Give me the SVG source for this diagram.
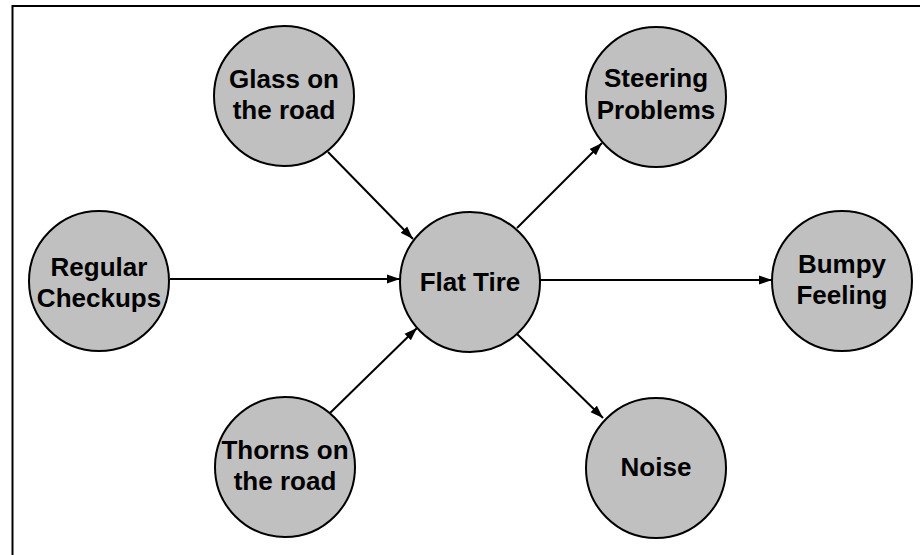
<svg xmlns="http://www.w3.org/2000/svg" width="920" height="555" viewBox="0 0 920 555">
<style>
.node circle{fill:#c0c0c0;stroke:#000;stroke-width:2}
.node text{font-family:"Liberation Sans",Arial,sans-serif;font-weight:bold;font-size:26px;fill:#000;text-anchor:middle}
.edge{stroke:#000;stroke-width:2;fill:none;marker-end:url(#arrow)}
</style>
<defs>
<marker id="arrow" markerUnits="userSpaceOnUse" markerWidth="14" markerHeight="10" refX="13" refY="5" orient="auto">
<path d="M0,0.5 L13,5 L0,9.5 z" fill="#000"/>
</marker>
</defs>
<rect width="920" height="555" fill="#fff"/>
<path d="M12.5,555 V6 H920" fill="none" stroke="#000" stroke-width="2"/>
<g id="connectors">
<line class="edge" x1="328" y1="152" x2="413" y2="239"/>
<line class="edge" x1="170" y1="279" x2="400" y2="279"/>
<line class="edge" x1="330" y1="413" x2="417" y2="328"/>
<line class="edge" x1="517" y1="228" x2="602" y2="143"/>
<line class="edge" x1="540" y1="280" x2="772" y2="280"/>
<line class="edge" x1="517" y1="334" x2="603" y2="418"/>
</g>
<g id="glass" class="node"><circle cx="284" cy="96" r="70"/><text x="284" y="88">Glass on</text><text x="284" y="119">the road</text></g>
<g id="regular" class="node"><circle cx="99" cy="281" r="70"/><text x="99" y="276">Regular</text><text x="99" y="307">Checkups</text></g>
<g id="thorns" class="node"><circle cx="285" cy="467" r="70"/><text x="285" y="459">Thorns on</text><text x="285" y="490">the road</text></g>
<g id="flat" class="node"><circle cx="470" cy="282" r="70"/><text x="470" y="291">Flat Tire</text></g>
<g id="steering" class="node"><circle cx="656" cy="97" r="70"/><text x="656" y="87">Steering</text><text x="656" y="119">Problems</text></g>
<g id="bumpy" class="node"><circle cx="842" cy="281" r="70"/><text x="842" y="273">Bumpy</text><text x="842" y="304">Feeling</text></g>
<g id="noise" class="node"><circle cx="656" cy="468" r="70"/><text x="656" y="476">Noise</text></g>
</svg>
